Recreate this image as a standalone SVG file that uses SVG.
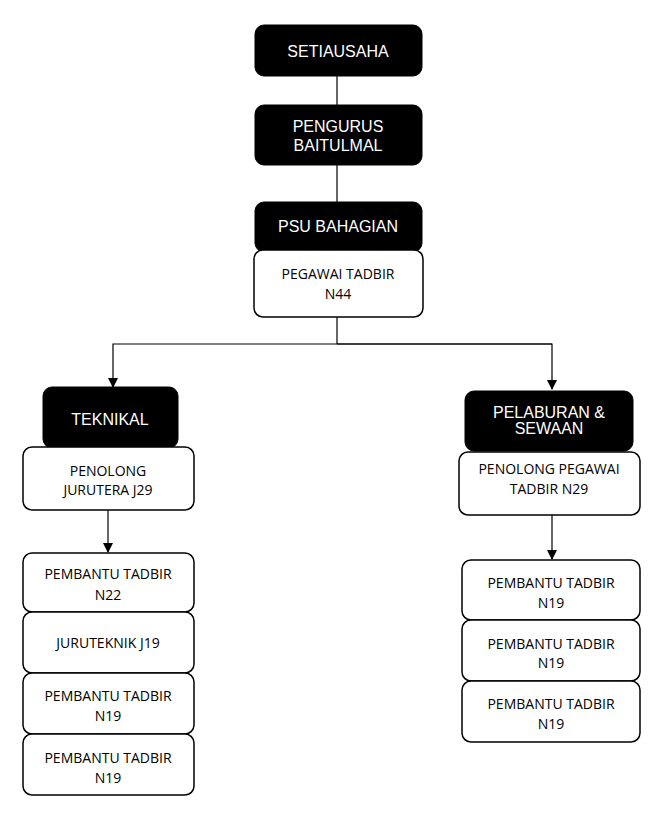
<svg xmlns="http://www.w3.org/2000/svg" width="662" height="815" viewBox="0 0 662 815">
<style>
.hd{fill:#000;stroke:#000;stroke-width:1}
.bx{fill:#fff;stroke:#000;stroke-width:1.5}
.th{font-family:"Liberation Sans",Arial,sans-serif;font-size:16px;fill:#fff;text-anchor:middle}
.tb{font-family:"Open Sans","Noto Sans",sans-serif;font-size:14px;fill:#000;text-anchor:middle}
.ln{fill:none;stroke:#000;stroke-width:1.2}
</style>
<defs>
<marker id="ah" markerWidth="10" markerHeight="10" refX="9" refY="5" orient="auto" markerUnits="userSpaceOnUse">
<path d="M0,0 L10,5 L0,10 Z" fill="#000"/>
</marker>
</defs>
<rect width="662" height="815" fill="#fff"/>
<g id="connectors">
<line class="ln" x1="337" y1="76" x2="337" y2="105"/>
<line class="ln" x1="337" y1="165" x2="337" y2="202"/>
<polyline class="ln" points="337,317 337,344"/>
<polyline class="ln" points="552,344 113,344 113,387" marker-end="url(#ah)"/>
<polyline class="ln" points="337,344 552,344 552,389" marker-end="url(#ah)"/>
<line class="ln" x1="108" y1="510" x2="108" y2="552" marker-end="url(#ah)"/>
<line class="ln" x1="552" y1="515" x2="552" y2="559" marker-end="url(#ah)"/>
</g>
<g id="setiausaha"><rect class="hd" x="255" y="25" width="167" height="51" rx="9"/><text class="th" x="338" y="57">SETIAUSAHA</text></g>
<g id="pengurus"><rect class="hd" x="255" y="105" width="167" height="60" rx="9"/><text class="th" x="338" y="132">PENGURUS</text><text class="th" x="338" y="151">BAITULMAL</text></g>
<g id="psu"><rect class="hd" x="255" y="202" width="167" height="50" rx="9"/><text class="th" x="338" y="232">PSU BAHAGIAN</text></g>
<g id="pegawai-n44"><rect class="bx" x="254" y="250" width="169" height="67" rx="9"/><text class="tb" x="338" y="279">PEGAWAI TADBIR</text><text class="tb" x="338" y="299">N44</text></g>
<g id="teknikal"><rect class="hd" x="43" y="387" width="135" height="61" rx="9"/><text class="th" x="110" y="425">TEKNIKAL</text></g>
<g id="penolong-j29"><rect class="bx" x="23" y="447" width="171" height="63" rx="9"/><text class="tb" x="108" y="476">PENOLONG</text><text class="tb" x="108" y="495">JURUTERA J29</text></g>
<g id="pelaburan"><rect class="hd" x="465" y="391" width="168" height="60" rx="9"/><text class="th" x="549" y="418">PELABURAN &amp;</text><text class="th" x="549" y="434">SEWAAN</text></g>
<g id="penolong-n29"><rect class="bx" x="459" y="452" width="181" height="63" rx="9"/><text class="tb" x="549" y="474">PENOLONG PEGAWAI</text><text class="tb" x="549" y="494">TADBIR N29</text></g>
<g id="l-n22"><rect class="bx" x="23" y="553" width="171" height="59" rx="9"/><text class="tb" x="108" y="579">PEMBANTU TADBIR</text><text class="tb" x="108" y="600">N22</text></g>
<g id="l-j19"><rect class="bx" x="23" y="612" width="171" height="61" rx="9"/><text class="tb" x="108" y="648">JURUTEKNIK J19</text></g>
<g id="l-n19a"><rect class="bx" x="23" y="673" width="171" height="61" rx="9"/><text class="tb" x="108" y="701">PEMBANTU TADBIR</text><text class="tb" x="108" y="721">N19</text></g>
<g id="l-n19b"><rect class="bx" x="23" y="734" width="171" height="61" rx="9"/><text class="tb" x="108" y="763">PEMBANTU TADBIR</text><text class="tb" x="108" y="783">N19</text></g>
<g id="r-n19a"><rect class="bx" x="462" y="560" width="178" height="60" rx="9"/><text class="tb" x="551" y="588">PEMBANTU TADBIR</text><text class="tb" x="551" y="608">N19</text></g>
<g id="r-n19b"><rect class="bx" x="462" y="620" width="178" height="61" rx="9"/><text class="tb" x="551" y="649">PEMBANTU TADBIR</text><text class="tb" x="551" y="668">N19</text></g>
<g id="r-n19c"><rect class="bx" x="462" y="681" width="178" height="61" rx="9"/><text class="tb" x="551" y="709">PEMBANTU TADBIR</text><text class="tb" x="551" y="729">N19</text></g>
</svg>
